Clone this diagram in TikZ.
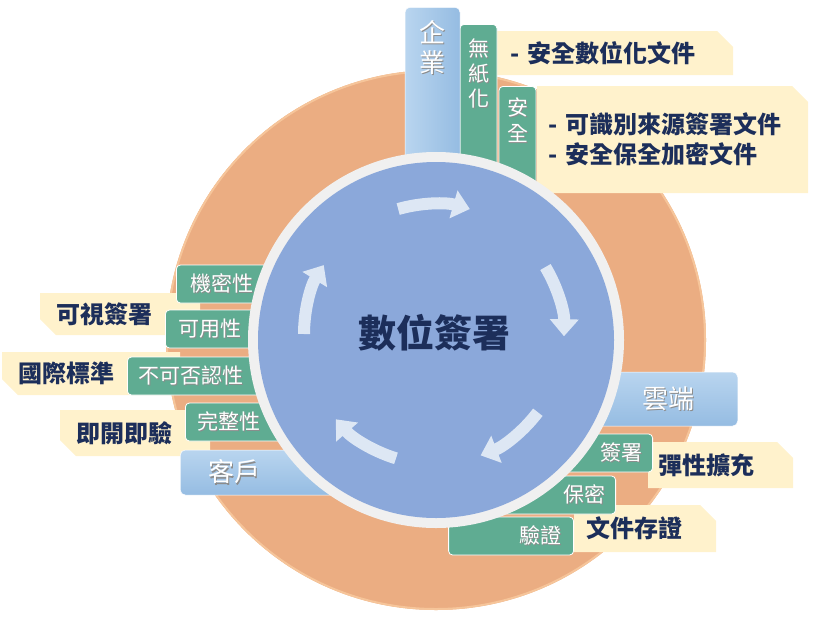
\documentclass[tikz,border=0pt]{standalone}
\usepackage{fontspec}
\setmainfont{Noto Sans CJK TC}
\usepackage{tikz}
\usetikzlibrary{arrows.meta}
\usetikzlibrary{shapes.misc}

\definecolor{ringorange}{HTML}{EBAD82}
\definecolor{ringrim}{HTML}{F6C59A}
\definecolor{ringgrey}{HTML}{F0F0F0}
\definecolor{discblue}{HTML}{8BA8DA}
\definecolor{arrowblue}{HTML}{DDE7F4}
\definecolor{tabgreen}{HTML}{5FAC92}
\definecolor{noteyellow}{HTML}{FFF2CC}
\definecolor{navy}{HTML}{1C2E5A}
\definecolor{bartop}{HTML}{B9D5EF}
\definecolor{barbottom}{HTML}{95BCE2}

\newcommand\castshadow[1]{\leavevmode\rlap{\kern1.2pt\raisebox{-1.2pt}{\textcolor{black!45}{#1}}}#1}

\begin{document}
\begin{tikzpicture}[line cap=round,line join=round,>={Triangle[width=28pt,length=17pt]},x=1pt,y=1pt,
    tab/.style={rectangle, rounded corners=4pt, fill=tabgreen, draw=white, line width=0.8pt, text=white, font=\fontsize{21}{25}\selectfont, inner ysep=0pt},
    note/.style={chamfered rectangle, chamfered rectangle xsep=8pt, chamfered rectangle ysep=8pt, fill=noteyellow, text=navy, font=\bfseries\fontsize{24}{30}\selectfont, inner xsep=0pt, inner ysep=0pt},
    bar/.style={rectangle, rounded corners=5pt, top color=bartop, bottom color=barbottom, draw=white, line width=0.5pt, text=white, font=\fontsize{26}{30}\selectfont},
    turn/.style={arrowblue, line width=12pt, line cap=butt}]
    \useasboundingbox (0,0) rectangle (829,-616);

    \coordinate (c) at (436,-340);
    \coordinate (spin) at (434,-334);

    % outer disc
    \fill[ringorange] (c) circle[radius=270pt];
    \draw[ringrim, line width=2pt] (c) circle[radius=269pt];

    % callouts
    \node[note, chamfered rectangle corners=north east, anchor=north west, minimum width=236pt, minimum height=44pt, text width=210pt, align=left] (paperless) at (497,-31) {- 安全數位化文件};
    \node[note, chamfered rectangle corners=north east, anchor=north west, minimum width=271pt, minimum height=107pt, text width=249pt, align=left] (safety) at (537,-86) {- 可識別來源簽署文件\\- 安全保全加密文件};
    \node[note, chamfered rectangle corners=north east, anchor=north west, minimum width=145pt, minimum height=46pt, text width=125pt, align=left] (elastic) at (648,-442) {彈性擴充};
    \node[note, chamfered rectangle corners=north east, anchor=north west, minimum width=142pt, minimum height=47pt, text width=118pt, align=left] (archive) at (574,-505) {文件存證};
    \node[note, chamfered rectangle corners=south west, anchor=north west, minimum width=160pt, minimum height=42pt, text width=128pt, align=left] (visible) at (40,-293) {可視簽署};
    \node[note, chamfered rectangle corners=south west, anchor=north west, minimum width=178pt, minimum height=43pt, text width=146pt, align=left] (standard) at (2,-352) {國際標準};
    \node[note, chamfered rectangle corners=south west, anchor=north west, minimum width=150pt, minimum height=46pt, text width=118pt, align=left] (instant) at (60,-410) {即開即驗};

    % green tabs
    \node[tab, anchor=north, minimum width=37pt, inner xsep=0pt, align=center, text height=68pt, text depth=86pt, inner ysep=13.6pt] (nopaper) at (478.5,-24) {\castshadow{無}\\\castshadow{紙}\\\castshadow{化}};
    \node[tab, anchor=north, minimum width=37pt, inner xsep=0pt, align=center, text height=44pt, text depth=54pt, inner ysep=10.6pt, font=\fontsize{21}{26}\selectfont] (secure) at (517.5,-86) {\castshadow{安}\\\castshadow{全}};
    \node[tab, anchor=west, minimum height=38pt, inner xsep=14pt, text width=100pt, align=left] (secrecy) at (176,-284) {\castshadow{機密性}};
    \node[tab, anchor=west, minimum height=38pt, inner xsep=13pt, text width=100pt, align=left] (usable) at (165,-329) {\castshadow{可用性}};
    \node[tab, anchor=west, minimum height=38pt, inner xsep=11pt, text width=120pt, align=left] (nonrepud) at (127,-376) {\castshadow{不可否認性}};
    \node[tab, anchor=west, minimum height=38pt, inner xsep=12pt, text width=110pt, align=left] (integrity) at (185,-422) {\castshadow{完整性}};
    \node[tab, anchor=east, minimum height=38pt, inner xsep=10pt, text width=100pt, align=right] (signing) at (653,-453) {\castshadow{簽署}};
    \node[tab, anchor=east, minimum height=38pt, inner xsep=10pt, text width=115pt, align=right] (privacy) at (616,-495) {\castshadow{保密}};
    \node[tab, anchor=east, minimum height=38pt, inner xsep=12pt, text width=101pt, align=right] (verify) at (574,-536) {\castshadow{驗證}};

    % blue bars
    \node[bar, left color=bartop, right color=barbottom, anchor=north, minimum width=55pt, inner xsep=0pt, align=center, text height=52pt, text depth=110pt, inner ysep=13pt] (firm) at (432.5,-7) {\castshadow{企}\\\castshadow{業}};
    \node[bar, anchor=east, minimum height=54pt, inner xsep=43pt, text width=100pt, align=right] (cloud) at (738,-399) {\castshadow{雲端}};
    \node[bar, anchor=west, minimum height=45pt, inner xsep=28pt, text width=150pt, align=left] (client) at (180,-472.5) {\castshadow{客戶}};

    % inner disc
    \fill[ringgrey] (c) circle[radius=188pt];
    \fill[discblue] (c) circle[radius=178pt];
    \foreach \a in {106,31,-37,-107,-180}
        \draw[turn, ->] ([shift={(\a:130pt)}]spin) arc[start angle=\a, end angle=\a-32, radius=130pt];

    \node[text=navy, font=\bfseries\fontsize{38}{40}\selectfont] (title) at (434,-333) {數位簽署};
\end{tikzpicture}
\end{document}
